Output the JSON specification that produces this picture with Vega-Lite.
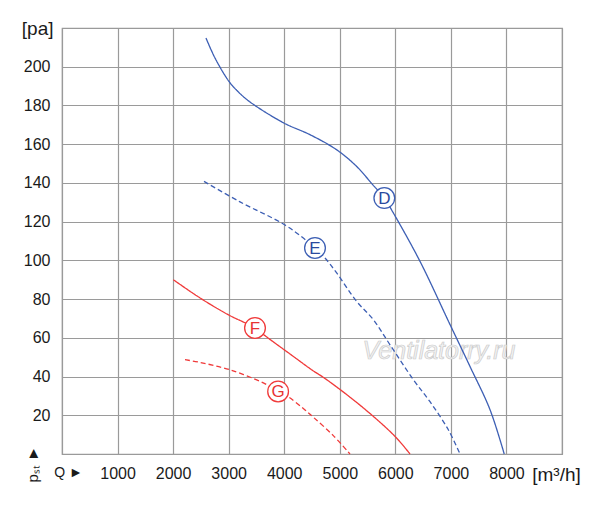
{
  "$schema": "https://vega.github.io/schema/vega-lite/v6.json",
  "width": 500,
  "height": 426,
  "autosize": {"type": "none"},
  "padding": {"left": 62, "top": 28, "right": 38, "bottom": 51},
  "background": "white",
  "datasets": {
    "curves": [
      {"series": "D", "x": 2592, "y": 214.8},
      {"series": "D", "x": 2754, "y": 204.5},
      {"series": "D", "x": 3006, "y": 192.4},
      {"series": "D", "x": 3174, "y": 187},
      {"series": "D", "x": 3384, "y": 181.8},
      {"series": "D", "x": 3996, "y": 170.9},
      {"series": "D", "x": 4464, "y": 164.9},
      {"series": "D", "x": 4944, "y": 157.1},
      {"series": "D", "x": 5304, "y": 148.5},
      {"series": "D", "x": 5592, "y": 139.1},
      {"series": "D", "x": 5802, "y": 132.2},
      {"series": "D", "x": 5964, "y": 124.5},
      {"series": "D", "x": 6444, "y": 99.5},
      {"series": "D", "x": 6972, "y": 67.6},
      {"series": "D", "x": 7344, "y": 45.2},
      {"series": "D", "x": 7704, "y": 22.9},
      {"series": "D", "x": 7960, "y": 0},
      {"series": "E", "x": 2556, "y": 140.8},
      {"series": "E", "x": 3204, "y": 130.2},
      {"series": "E", "x": 3984, "y": 118.8},
      {"series": "E", "x": 4344, "y": 111.5},
      {"series": "E", "x": 4554, "y": 106.4},
      {"series": "E", "x": 4734, "y": 101.2},
      {"series": "E", "x": 4944, "y": 93.5},
      {"series": "E", "x": 5304, "y": 78.8},
      {"series": "E", "x": 5604, "y": 69.4},
      {"series": "E", "x": 5904, "y": 56.4},
      {"series": "E", "x": 6324, "y": 38.4},
      {"series": "E", "x": 6624, "y": 27},
      {"series": "E", "x": 6954, "y": 12.5},
      {"series": "E", "x": 7164, "y": 0},
      {"series": "F", "x": 2004, "y": 90},
      {"series": "F", "x": 2484, "y": 80.6},
      {"series": "F", "x": 2994, "y": 71.9},
      {"series": "F", "x": 3474, "y": 65.1},
      {"series": "F", "x": 3672, "y": 60.7},
      {"series": "F", "x": 4164, "y": 50.4},
      {"series": "F", "x": 4494, "y": 43.5},
      {"series": "F", "x": 4764, "y": 38.4},
      {"series": "F", "x": 5424, "y": 23.8},
      {"series": "F", "x": 5994, "y": 9.1},
      {"series": "F", "x": 6264, "y": 0},
      {"series": "G", "x": 2214, "y": 48.7},
      {"series": "G", "x": 2484, "y": 47.3},
      {"series": "G", "x": 3020, "y": 43.5},
      {"series": "G", "x": 3624, "y": 36.7},
      {"series": "G", "x": 3890, "y": 32.3},
      {"series": "G", "x": 4074, "y": 29.5},
      {"series": "G", "x": 4344, "y": 23.5},
      {"series": "G", "x": 4524, "y": 19},
      {"series": "G", "x": 4884, "y": 9.5},
      {"series": "G", "x": 5184, "y": 0}
    ],
    "tags": [
      {"series": "D", "x": 5802, "y": 132.2},
      {"series": "E", "x": 4554, "y": 106.4},
      {"series": "F", "x": 3474, "y": 65.1},
      {"series": "G", "x": 3890, "y": 32.3}
    ],
    "watermark": [
      {"x": 6786, "y": 53, "text": "Ventilatorry.ru"}
    ]
  },
  "encoding": {
    "x": {
      "field": "x",
      "type": "quantitative",
      "scale": {"domain": [0, 9000], "nice": false, "zero": false},
      "axis": {
        "values": [0, 1000, 2000, 3000, 4000, 5000, 6000, 7000, 8000, 9000],
        "format": "d",
        "labelExpr": "datum.value == 0 ? 'Q ►' : datum.value == 9000 ? '[m³/h]' : datum.label",
        "labelFontSize": {
          "condition": [
            {"test": "datum.value == 0", "value": 14},
            {"test": "datum.value == 9000", "value": 19}
          ],
          "value": 16
        },
        "labelOffset": {
          "condition": [
            {"test": "datum.value == 0", "value": 6},
            {"test": "datum.value == 9000", "value": -6}
          ],
          "value": 0
        },
        "labelFlush": false,
        "labelOverlap": false,
        "labelPadding": 11,
        "title": null
      }
    },
    "y": {
      "field": "y",
      "type": "quantitative",
      "scale": {"domain": [0, 220], "nice": false},
      "axis": {
        "values": [0, 20, 40, 60, 80, 100, 120, 140, 160, 180, 200, 220],
        "labelExpr": "datum.value == 220 ? '[pa]' : datum.value == 0 ? '' : datum.label",
        "labelFontSize": {"condition": {"test": "datum.value == 220", "value": 19}, "value": 16},
        "labelPadding": {"condition": {"test": "datum.value == 220", "value": 9}, "value": 12},
        "labelOverlap": false,
        "title": "pₛₜ ►",
        "titleAngle": 270,
        "titleAlign": "left",
        "titleBaseline": "middle",
        "titleX": -30,
        "titleY": 454,
        "titleFontSize": 15,
        "titleFontWeight": "normal"
      }
    }
  },
  "layer": [
    {
      "data": {"name": "watermark"},
      "mark": {
        "type": "text",
        "font": "Liberation Sans",
        "fontSize": 25,
        "fontStyle": "italic",
        "fill": "#f3f3f3",
        "stroke": "#cccccc",
        "strokeWidth": 0.7
      },
      "encoding": {"text": {"field": "text"}}
    },
    {
      "data": {"name": "curves"},
      "mark": {"type": "line", "interpolate": "catmull-rom", "strokeWidth": 1.3},
      "encoding": {
        "color": {
          "field": "series",
          "type": "nominal",
          "scale": {"domain": ["D", "E", "F", "G"], "range": ["#3d5fb4", "#3d5fb4", "#f03a3a", "#f03a3a"]},
          "legend": null
        },
        "strokeDash": {
          "field": "series",
          "type": "nominal",
          "scale": {"domain": ["D", "E", "F", "G"], "range": [[1, 0], [5, 3], [1, 0], [5, 3]]},
          "legend": null
        }
      }
    },
    {
      "data": {"name": "tags"},
      "mark": {"type": "point", "shape": "circle", "filled": false, "fill": "white", "fillOpacity": 1, "size": 430, "strokeWidth": 1.3, "opacity": 1},
      "encoding": {
        "stroke": {
          "field": "series",
          "type": "nominal",
          "scale": {"domain": ["D", "E", "F", "G"], "range": ["#3d5fb4", "#3d5fb4", "#f03a3a", "#f03a3a"]},
          "legend": null
        }
      }
    },
    {
      "data": {"name": "tags"},
      "mark": {"type": "text", "font": "Liberation Sans", "fontSize": 17, "baseline": "middle", "dy": 1},
      "encoding": {
        "text": {"field": "series"},
        "color": {
          "field": "series",
          "type": "nominal",
          "scale": {"domain": ["D", "E", "F", "G"], "range": ["#2b4a9e", "#2b4a9e", "#e83333", "#e83333"]},
          "legend": null
        }
      }
    }
  ],
  "resolve": {"scale": {"color": "independent"}},
  "config": {
    "view": {"stroke": "#9a9a9a", "strokeWidth": 1.2},
    "axis": {
      "grid": true,
      "gridColor": "#9a9a9a",
      "gridWidth": 1.2,
      "gridOpacity": 1,
      "ticks": false,
      "domain": false,
      "labelFont": "Liberation Sans",
      "labelColor": "#1a1a1a",
      "titleFont": "Liberation Sans",
      "titleColor": "#1a1a1a"
    }
  }
}
